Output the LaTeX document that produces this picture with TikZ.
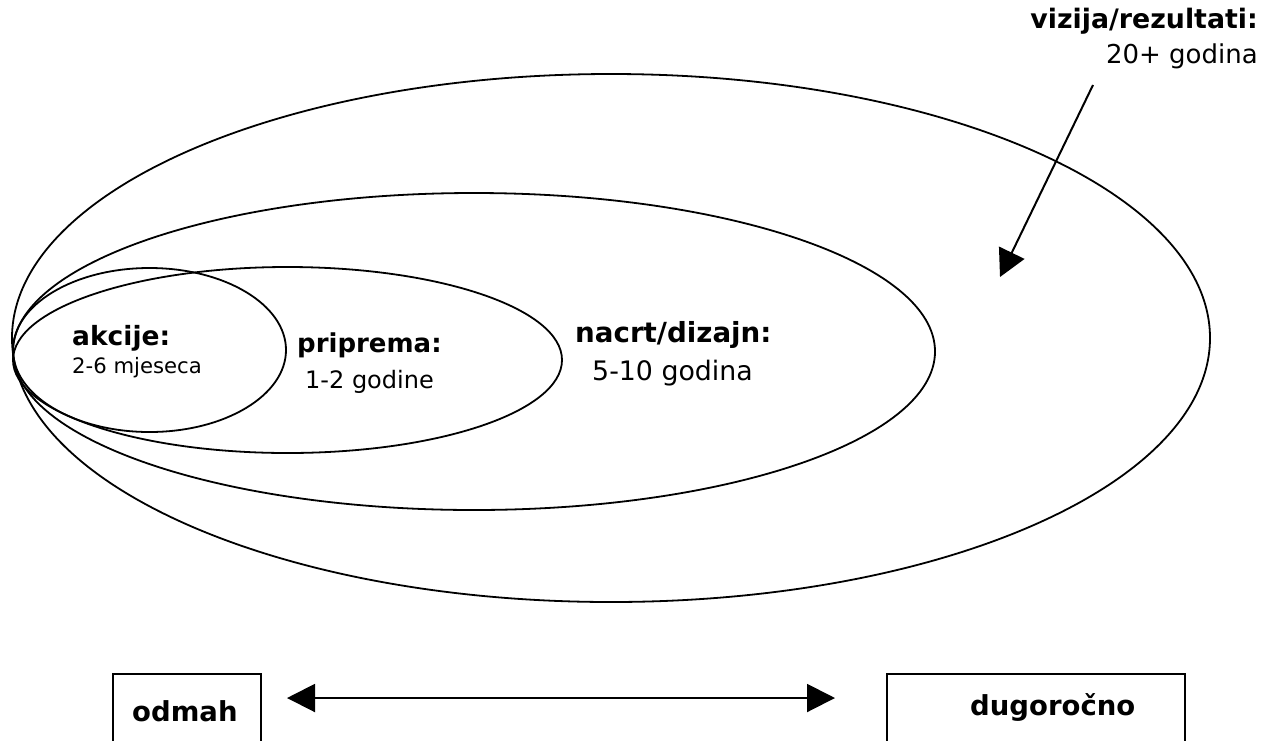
\documentclass[tikz,border=0pt]{standalone}
\usepackage{fontspec}
\setmainfont{DejaVu Sans}
\usetikzlibrary{arrows.meta}
\tikzset{
  lbl/.style={inner sep=0pt, anchor=base west},
  lblr/.style={inner sep=0pt, anchor=base east},
  oval/.style={draw=black, line width=1.8pt},
  boxn/.style={draw=black, line width=2pt, minimum height=95pt, inner sep=0pt, anchor=north west},
  arr/.style={line width=2pt, -{Triangle[length=27pt,width=28pt]}},
  darr/.style={line width=2pt, {Triangle[length=28pt,width=28pt]}-{Triangle[length=28pt,width=28pt]}}
}
\newcommand{\fs}[1]{\fontsize{#1}{#1}\selectfont}
\begin{document}
\begin{tikzpicture}[x=1pt,y=-1pt]
\useasboundingbox (0,0) rectangle (1263,740);
% ellipses
\draw[oval] (611,338) ellipse [x radius=599pt, y radius=264pt];
\draw[oval] (474,351.5) ellipse [x radius=461pt, y radius=158.5pt];
\draw[oval] (287.5,360) ellipse [x radius=274.5pt, y radius=93pt];
\draw[oval] (149.5,350) ellipse [x radius=136.5pt, y radius=82pt];
% labels
\node[lbl, font=\fs{26.5}\bfseries] (akc) at (72,345) {akcije:};
\node[lbl, font=\fs{21.2}] (akct) at (72,373) {2-6 mjeseca};
\node[lbl, font=\fs{26}\bfseries] (pri) at (297,352) {priprema:};
\node[lbl, font=\fs{24}] (prit) at (305,388) {1-2 godine};
\node[lbl, font=\fs{27.7}\bfseries] (nac) at (575,342) {nacrt/dizajn:};
\node[lbl, font=\fs{26.8}] (nact) at (592,380) {5-10 godina};
\node[lblr, font=\fs{26.8}\bfseries] (viz) at (1258,28) {vizija/rezultati:};
\node[lblr, font=\fs{26}] (vizt) at (1258,63) {20+ godina};
% arrow to outer ellipse
\coordinate (vs) at (1093,85);
\coordinate (ve) at (1000,277);
\draw[arr] (vs) -- (ve);
% bottom boxes
\node[boxn, minimum width=148pt] (odbox) at (112,673) {};
\node[boxn, minimum width=298pt] (dubox) at (886,673) {};
\node[lbl, font=\fs{27.5}\bfseries] (od) at (132,721) {odmah};
\node[lbl, font=\fs{27.5}\bfseries] (du) at (970,715) {dugoročno};
\coordinate (b1) at (287,698);
\coordinate (b2) at (835,698);
\draw[darr] (b1) -- (b2);
\end{tikzpicture}
\end{document}
